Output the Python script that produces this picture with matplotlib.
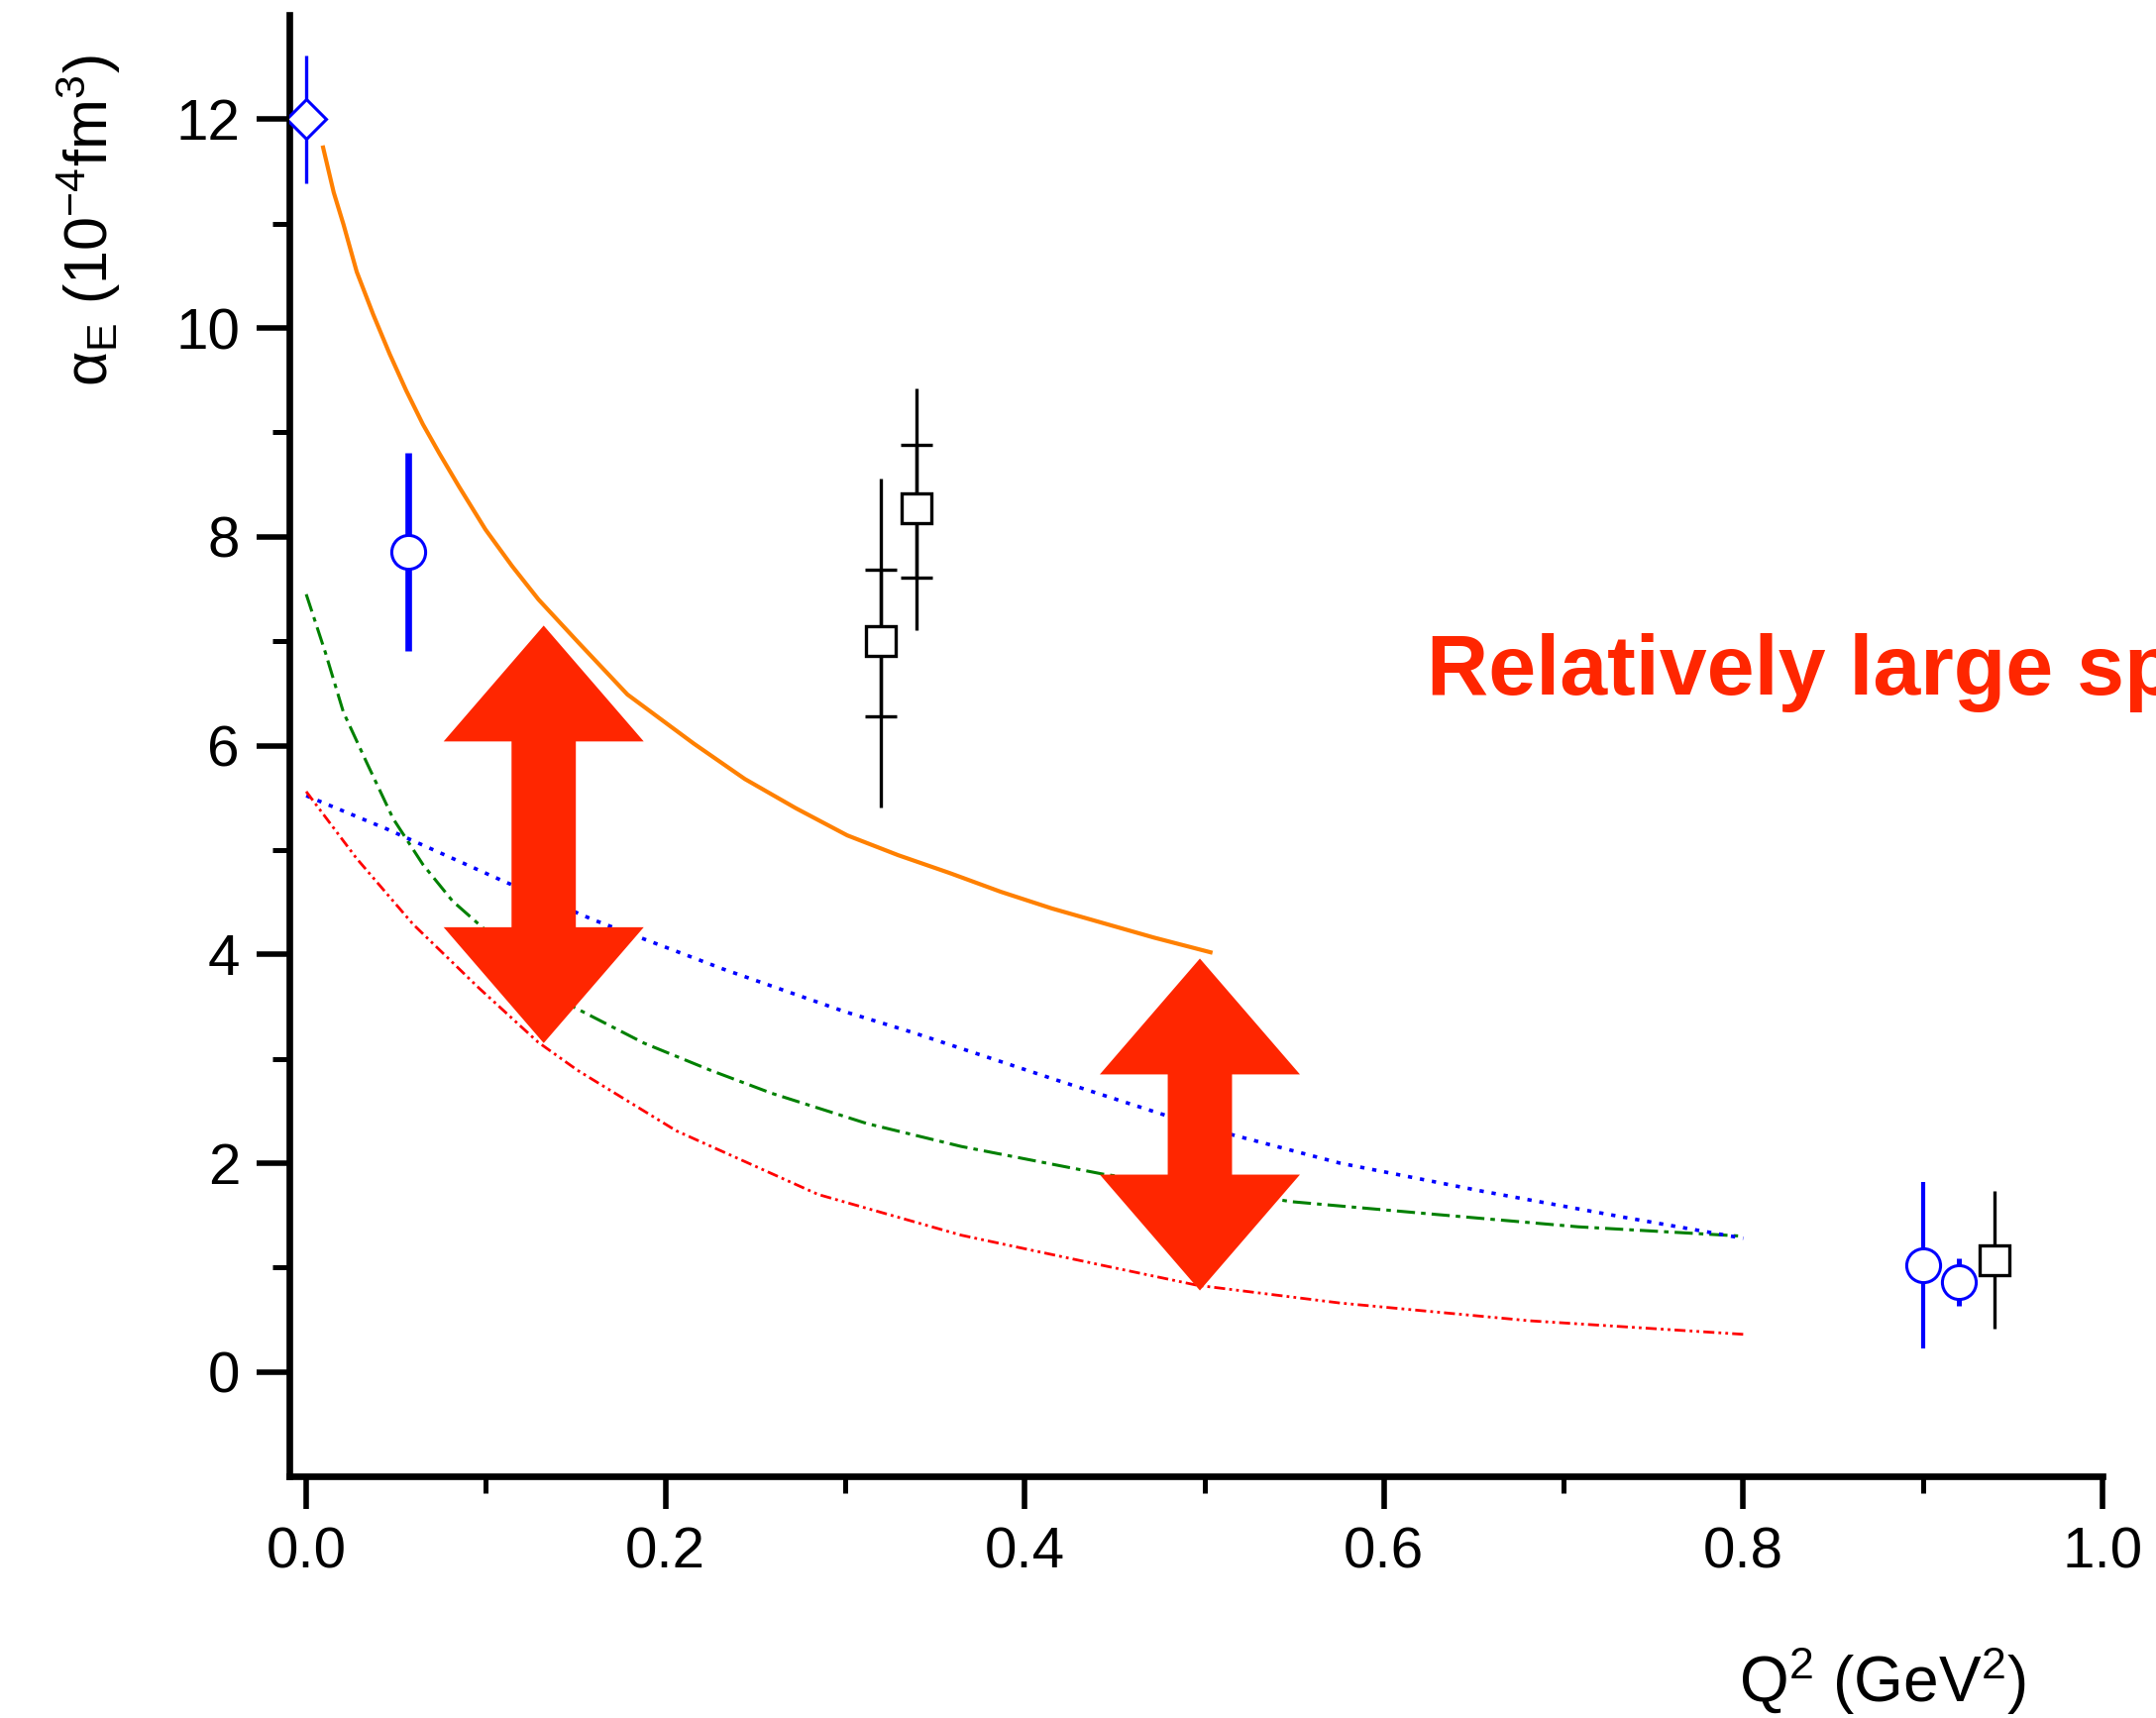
import matplotlib
matplotlib.use('Agg')
import matplotlib.pyplot as plt
from matplotlib.patches import Polygon
from matplotlib import font_manager

# ---- Model curves ----
orange_q2 = [0.0094, 0.0153, 0.0208, 0.0281, 0.0373, 0.0465, 0.0557, 0.0649, 0.0741, 0.0851, 0.0998,
             0.1146, 0.1293, 0.1514, 0.1788, 0.2157, 0.2442, 0.2726, 0.3012, 0.3296, 0.3581, 0.3866,
             0.4151, 0.4436, 0.4721, 0.5034]
orange_alpha = [11.73, 11.30, 10.99, 10.54, 10.13, 9.75, 9.40, 9.08, 8.80, 8.48, 8.07,
                7.72, 7.40, 6.99, 6.49, 6.02, 5.68, 5.40, 5.14, 4.95, 4.78, 4.60,
                4.44, 4.30, 4.16, 4.02]

green_q2 = [0.0, 0.0107, 0.0207, 0.0336, 0.0484, 0.065, 0.0815, 0.096, 0.1495, 0.188, 0.225, 0.259,
            0.312, 0.3646, 0.4435, 0.549, 0.628, 0.708, 0.80]
green_alpha = [7.45, 6.89, 6.32, 5.84, 5.30, 4.86, 4.51, 4.29, 3.49, 3.15, 2.89, 2.67,
               2.38, 2.16, 1.895, 1.63, 1.51, 1.39, 1.30]

blue_q2 = [0.0, 0.045, 0.11, 0.16, 0.232, 0.30, 0.338, 0.417, 0.496, 0.5755, 0.655, 0.734, 0.80]
blue_alpha = [5.52, 5.20, 4.70, 4.33, 3.86, 3.45, 3.25, 2.80, 2.36, 2.00, 1.73, 1.48, 1.28]

red_q2 = [0.0, 0.028, 0.0594, 0.096, 0.129, 0.151, 0.206, 0.285, 0.3646, 0.4435, 0.496, 0.5755, 0.681, 0.80]
red_alpha = [5.56, 4.92, 4.29, 3.68, 3.16, 2.89, 2.31, 1.70, 1.31, 1.02, 0.83, 0.66, 0.49, 0.36]

# ---- Data points ----
diamond_q2 = [0.0]
diamond_alpha = [12.0]
diamond_err = [0.61]

circle_q2 = [0.057, 0.90, 0.92]
circle_alpha = [7.86, 1.02, 0.86]
circle_err = [0.95, 0.80, 0.23]
circle_lw = [2.4, 1.5, 1.8]

square_q2 = [0.320, 0.340, 0.940]
square_alpha = [7.00, 8.27, 1.07]
square_err_lo = [1.59, 1.16, 0.66]
square_err_hi = [1.56, 1.15, 0.66]
square_stat_lo = [0.72, 0.66, None]
square_stat_hi = [0.69, 0.61, None]

# ---- Overlay annotations (double arrows) ----
arrow_q2 = [0.1322, 0.4975]
arrow_top = [7.15, 3.96]
arrow_bottom = [3.15, 0.78]

annot_red = '#FF2600'

plt.rcParams['font.family'] = ['Liberation Sans', 'DejaVu Sans']
plt.rcParams['mathtext.fontset'] = 'custom'
plt.rcParams['mathtext.rm'] = 'Liberation Sans'
plt.rcParams['mathtext.it'] = 'Liberation Sans:italic'
plt.rcParams['mathtext.default'] = 'regular'

fig = plt.figure(figsize=(10.88, 8.67), dpi=200)
ax = fig.add_axes([0.1342, 0.1407, 0.8410, 0.8506])

# curves
ax.plot(orange_q2, orange_alpha, color='#FF8000', lw=1.5, zorder=3)
ax.plot(green_q2, green_alpha, color='#008000', lw=1.1, ls=(0, (6, 2, 1.5, 2)), zorder=3)
ax.plot(blue_q2, blue_alpha, color='#0000FF', lw=1.3, ls=(0, (1.2, 2.2)), zorder=3)
ax.plot(red_q2, red_alpha, color='#FF0000', lw=1.0, ls=(0, (4, 1.5, 1, 1.5, 1, 1.5)), zorder=3)

# blue diamond
ax.errorbar(diamond_q2, diamond_alpha, yerr=diamond_err, fmt='D', ms=10.2, mfc='white',
            mec='#0000FF', mew=1.1, ecolor='#0000FF', elinewidth=1.2, capsize=0, zorder=5)

# blue circles
for q, a, e, lw in zip(circle_q2, circle_alpha, circle_err, circle_lw):
    ax.errorbar([q], [a], yerr=[e], fmt='o', ms=12.3, mfc='white', mec='#0000FF', mew=1.1,
                ecolor='#0000FF', elinewidth=lw, capsize=0, zorder=5)

# black squares: total error without caps, inner ticks at stat error
for i in range(len(square_q2)):
    ax.errorbar([square_q2[i]], [square_alpha[i]], yerr=[[square_err_lo[i]], [square_err_hi[i]]],
                fmt='s', ms=10.5, mfc='white', mec='black', mew=1.2, ecolor='black',
                elinewidth=1.2, capsize=0, zorder=5)
    if square_stat_lo[i] is not None:
        ax.errorbar([square_q2[i]], [square_alpha[i]], yerr=[[square_stat_lo[i]], [square_stat_hi[i]]],
                    fmt='none', ecolor='black', elinewidth=1.2, capsize=5.8, capthick=1.2, zorder=4)

# red double arrows (half widths / head length in data units)
head_hw = 0.0557
shaft_hw = 0.0179
head_len = 1.11
for cx, yt, yb in zip(arrow_q2, arrow_top, arrow_bottom):
    pts = [(cx, yt), (cx + head_hw, yt - head_len), (cx + shaft_hw, yt - head_len),
           (cx + shaft_hw, yb + head_len), (cx + head_hw, yb + head_len), (cx, yb),
           (cx - head_hw, yb + head_len), (cx - shaft_hw, yb + head_len),
           (cx - shaft_hw, yt - head_len), (cx - head_hw, yt - head_len)]
    ax.add_patch(Polygon(pts, closed=True, facecolor=annot_red, edgecolor='none', zorder=6))

# axes styling
ax.set_xlim(-0.0094, 1.0)
ax.set_ylim(-1, 13)
ax.spines['top'].set_visible(False)
ax.spines['right'].set_visible(False)
ax.spines['left'].set_linewidth(2.4)
ax.spines['bottom'].set_linewidth(2.4)
ax.set_xticks([0.0, 0.2, 0.4, 0.6, 0.8, 1.0])
ax.set_xticklabels(['0.0', '0.2', '0.4', '0.6', '0.8', '1.0'])
ax.set_xticks([0.1, 0.3, 0.5, 0.7, 0.9], minor=True)
ax.set_yticks([0, 2, 4, 6, 8, 10, 12])
ax.set_yticks([1, 3, 5, 7, 9, 11], minor=True)
ax.tick_params(which='major', direction='out', length=12, width=2.0, labelsize=21, pad=6)
ax.tick_params(which='minor', direction='out', length=6, width=1.8)

# axis labels placed like the original
fig.text(0.041, 0.8714, r'$\alpha_{\mathrm{E}}$ (10$^{-4}$fm$^{3}$)', rotation=90,
         ha='center', va='center', fontsize=22)
fig.text(0.873, 0.0092, r'Q$^{2}$ (GeV$^{2}$)', ha='center', va='baseline', fontsize=23)

# red annotation, clipped by the figure edge as in the original
names = set(f.name for f in font_manager.fontManager.ttflist)
if 'Liberation Sans Narrow' in names:
    fig.text(0.6618, 0.5959, 'Relatively large spread', color=annot_red, fontsize=31,
             fontweight='bold', family='Liberation Sans Narrow', va='baseline')
else:
    fig.text(0.6618, 0.5959, 'Relatively large spread', color=annot_red, fontsize=31,
             fontweight='bold', va='baseline')

fig.savefig('out.png', dpi=200)
